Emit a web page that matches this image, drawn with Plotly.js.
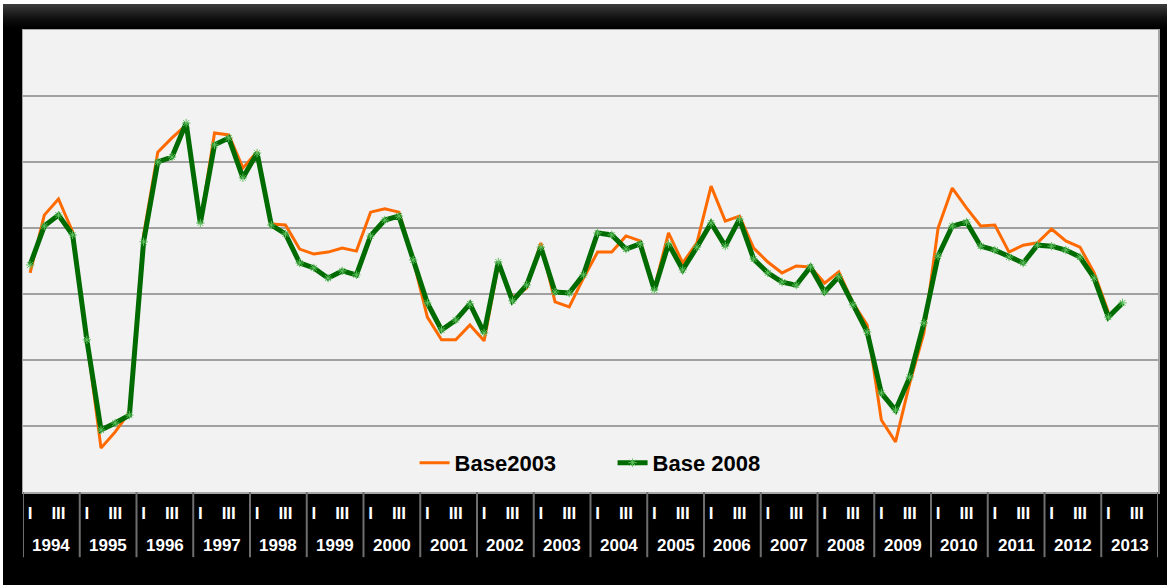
<!DOCTYPE html>
<html>
<head>
<meta charset="utf-8">
<script src="https://cdn.plot.ly/plotly-3.0.1.min.js"></script>
<style>
  html, body { margin:0; padding:0; background:#ffffff; width:1167px; height:585px; overflow:hidden; }
  #chart { position:absolute; left:3px; top:4px; width:1164px; height:581px;
           background: linear-gradient(to bottom, #3c3c3c 0px, #101010 14px, #000000 24px, #000000 100%); }
</style>
</head>
<body>
<div id="chart"></div>
<script>
// ---- data (arbitrary y units) ----
const years = ['1994','1995','1996','1997','1998','1999','2000','2001','2002','2003',
               '2004','2005','2006','2007','2008','2009','2010','2011','2012','2013'];
const quarterLabels = ['I','','III',''];

const base2003 = [
  -1.36, 0.39, 0.88, -0.12,   -3.39, -6.67, -6.18, -5.58,
  -0.21, 2.30, 2.73, 3.12,    0.15, 2.88, 2.82, 1.82,
   2.30, 0.12, 0.09, -0.64,   -0.79, -0.73, -0.61, -0.70,
   0.48, 0.58, 0.48, -0.97,   -2.70, -3.39, -3.39, -2.94,
  -3.42, -1.12, -2.12, -1.82, -0.45, -2.24, -2.39, -1.52,
  -0.73, -0.73, -0.24, -0.39, -1.82, -0.15, -1.06, -0.45,
   1.27, 0.21, 0.36, -0.61,   -1.03, -1.36, -1.15, -1.18,
  -1.67, -1.33, -2.27, -2.94, -5.82, -6.48, -4.70, -3.18,
   0.00, 1.21, 0.61, 0.06,    0.09, -0.73, -0.52, -0.45,
  -0.03, -0.39, -0.58, -1.36, -2.55
];
const base2008 = [
  -1.12, 0.06, 0.39, -0.21,   -3.39, -6.12, -5.91, -5.67,
  -0.42, 2.00, 2.15, 3.18,    0.15, 2.52, 2.73, 1.52,
   2.27, 0.09, -0.18, -1.06,  -1.21, -1.52, -1.30, -1.42,
  -0.24, 0.24, 0.36, -0.97,   -2.27, -3.09, -2.79, -2.30,
  -3.18, -1.03, -2.21, -1.73, -0.58, -1.94, -1.97, -1.42,
  -0.15, -0.21, -0.64, -0.48, -1.88, -0.48, -1.27, -0.58,
   0.15, -0.55, 0.27, -0.94,  -1.36, -1.64, -1.73, -1.18,
  -1.94, -1.48, -2.33, -3.15, -5.00, -5.52, -4.52, -2.88,
  -0.85, 0.06, 0.18, -0.55,   -0.67, -0.88, -1.06, -0.52,
  -0.55, -0.67, -0.88, -1.52, -2.70, -2.27
];
const seriesNames = ['Base2003', 'Base 2008'];

// ---- build ----
const nQ = years.length * 4;
const idx = arr => arr.map((_, i) => i);

const tickvals = [], ticktext = [];
for (let i = 0; i < nQ; i++) {
  const q = quarterLabels[i % 4];
  if (q) { tickvals.push(i); ticktext.push(q); }
}

const traces = [
  { x: idx(base2003), y: base2003, name: seriesNames[0], type: 'scatter', mode: 'lines',
    line: { color: '#ff6a00', width: 3 } },
  { x: idx(base2008), y: base2008, name: seriesNames[1], type: 'scatter', mode: 'lines+markers',
    line: { color: '#006b00', width: 5 },
    marker: { symbol: 'asterisk-open', size: 7, color: '#5fbf5f', line: { color: '#5fbf5f', width: 1 } } }
];

const shapes = [];
for (let k = 0; k <= years.length; k++) {
  shapes.push({ type: 'line', xref: 'x', yref: 'paper', x0: k * 4 - 0.5, x1: k * 4 - 0.5,
    y0: 0, y1: -0.141, line: { color: '#6e6e6e', width: 2 } });
}

const annotations = years.map((yr, k) => ({
  x: k * 4 + 1.5, xref: 'x', y: -0.115, yref: 'paper', text: yr, showarrow: false,
  font: { family: 'Liberation Sans, Arial, sans-serif', size: 17, color: '#ffffff', weight: 'bold' },
  xanchor: 'center', yanchor: 'middle'
}));

const layout = {
  width: 1164, height: 581,
  margin: { l: 20, r: 9, t: 26, b: 93 },
  paper_bgcolor: 'rgba(0,0,0,0)',
  plot_bgcolor: '#f2f2f2',
  showlegend: true,
  legend: {
    orientation: 'h', x: 0.345, xanchor: 'left', y: 0.063, yanchor: 'middle',
    bgcolor: 'rgba(0,0,0,0)', entrywidth: 153, entrywidthmode: 'pixels',
    font: { family: 'Liberation Sans, Arial, sans-serif', size: 22, color: '#000000', weight: 'bold' }
  },
  xaxis: {
    range: [-0.5, nQ - 0.5], tickmode: 'array', tickvals: tickvals, ticktext: ticktext,
    showgrid: false, zeroline: false, ticks: '', ticklabelstandoff: 5,
    tickfont: { family: 'Liberation Sans, Arial, sans-serif', size: 17, color: '#ffffff', weight: 'bold' },
    showline: true, linecolor: '#a6a6a6', linewidth: 1.5, mirror: true, fixedrange: true
  },
  yaxis: {
    range: [-8, 6], dtick: 2, tick0: 0, showticklabels: false, ticks: '',
    showgrid: true, gridcolor: '#a0a0a0', gridwidth: 1.5, zeroline: false,
    showline: true, linecolor: '#a6a6a6', linewidth: 1.5, mirror: true, fixedrange: true
  },
  shapes: shapes,
  annotations: annotations
};

Plotly.newPlot('chart', traces, layout, { displayModeBar: false, staticPlot: true });
</script>
</body>
</html>
